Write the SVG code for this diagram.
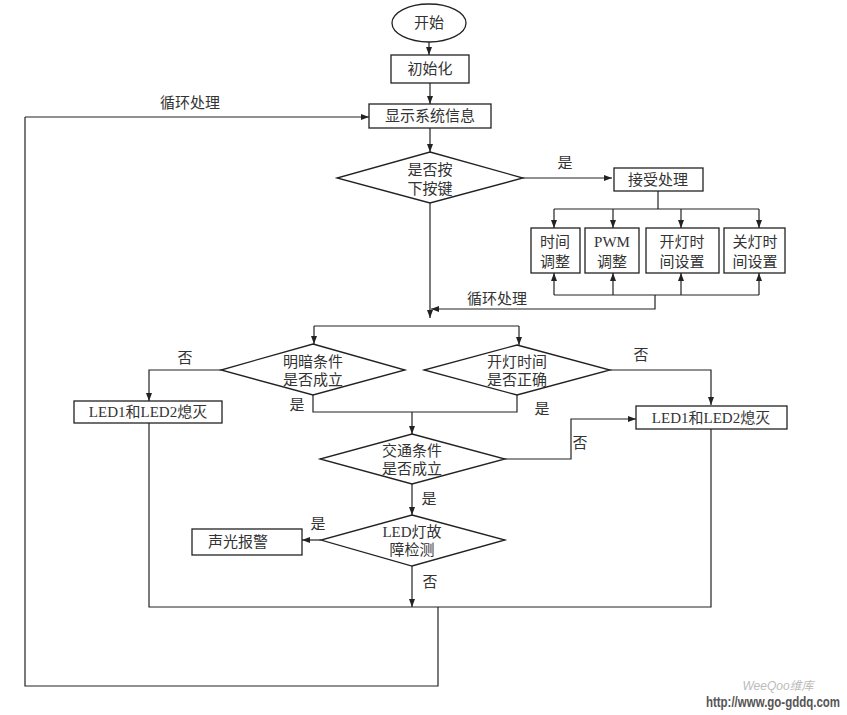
<svg xmlns="http://www.w3.org/2000/svg" width="847" height="715" viewBox="0 0 847 715">
<defs>
<marker id="ar" markerWidth="8" markerHeight="6" refX="8" refY="3" orient="auto" markerUnits="userSpaceOnUse">
<path d="M0,0 L8,3 L0,6 Z" fill="#222"/>
</marker>
<style>
.n{fill:#fff;stroke:#222;stroke-width:1.3}
.t{font-family:"Liberation Serif","Noto Sans CJK SC",serif;font-size:15px;fill:#333;text-anchor:middle;dominant-baseline:central}
.c{fill:none;stroke:#222;stroke-width:1.2}
.a{marker-end:url(#ar)}
</style>
</defs>
<rect width="847" height="715" fill="#fff"/>
<g id="connectors">
<path class="c a" d="M429,42 V55"/>
<path class="c a" d="M430,83 V104"/>
<path class="c a" d="M25,117 H369"/>
<path class="c a" d="M430,128 V152"/>
<path class="c a" d="M523,178 H612"/>
<path class="c" d="M658,191 V209 M554,209 H759"/>
<path class="c a" d="M554,209 V228"/>
<path class="c a" d="M613,209 V228"/>
<path class="c a" d="M681,209 V228"/>
<path class="c a" d="M759,209 V228"/>
<path class="c" d="M554,295 H759"/>
<path class="c a" d="M554,295 V273"/>
<path class="c a" d="M613,295 V273"/>
<path class="c a" d="M681,295 V273"/>
<path class="c a" d="M759,295 V273"/>
<path class="c a" d="M655,295 V309 H431"/>
<path class="c a" d="M430,203 V318"/>
<path class="c" d="M314,326 H519"/>
<path class="c a" d="M314,326 V344"/>
<path class="c a" d="M519,326 V345"/>
<path class="c a" d="M221,370 H149 V401"/>
<path class="c a" d="M610,370 H711 V405"/>
<path class="c" d="M313,395 V412 H517 V395"/>
<path class="c a" d="M412,412 V434"/>
<path class="c a" d="M505,459 H571 V419 H636"/>
<path class="c a" d="M412,484 V515"/>
<path class="c a" d="M321,540 H302"/>
<path class="c a" d="M412,566 V607"/>
<path class="c" d="M149,423 V607 H711 V429"/>
<path class="c" d="M438,607 V686 H25 V117"/>
</g>
<g id="start"><ellipse class="n" cx="429" cy="23" rx="37" ry="19"/><text class="t" x="429" y="23">开始</text></g>
<g id="init"><rect class="n" x="391" y="55" width="78" height="28"/><text class="t" x="430" y="69">初始化</text></g>
<g id="display"><rect class="n" x="369" y="104" width="122" height="24"/><text class="t" x="430" y="116">显示系统信息</text></g>
<g id="keypress"><path class="n" d="M430,152 L523,178 L430,203 L337,178 Z"/><text class="t" x="430" y="170">是否按</text><text class="t" x="430" y="189">下按键</text></g>
<g id="accept"><rect class="n" x="614" y="168" width="89" height="23"/><text class="t" x="658" y="180">接受处理</text></g>
<g id="timeadj"><rect class="n" x="531" y="228" width="49" height="45"/><text class="t" x="555" y="242">时间</text><text class="t" x="555" y="262">调整</text></g>
<g id="pwmadj"><rect class="n" x="585" y="228" width="54" height="45"/><text class="t" x="612" y="242">PWM</text><text class="t" x="612" y="262">调整</text></g>
<g id="onset"><rect class="n" x="646" y="228" width="73" height="45"/><text class="t" x="682" y="242">开灯时</text><text class="t" x="682" y="262">间设置</text></g>
<g id="offset"><rect class="n" x="724" y="228" width="61" height="45"/><text class="t" x="755" y="242">关灯时</text><text class="t" x="755" y="262">间设置</text></g>
<g id="brightcond"><path class="n" d="M313,344 L405,370 L313,395 L221,370 Z"/><text class="t" x="313" y="362">明暗条件</text><text class="t" x="313" y="380">是否成立</text></g>
<g id="ontimecond"><path class="n" d="M517,345 L610,370 L517,395 L424,370 Z"/><text class="t" x="517" y="362">开灯时间</text><text class="t" x="517" y="380">是否正确</text></g>
<g id="ledoff1"><rect class="n" x="74" y="401" width="148" height="22"/><text class="t" x="148" y="412">LED1和LED2熄灭</text></g>
<g id="ledoff2"><rect class="n" x="636" y="406" width="151" height="23"/><text class="t" x="711" y="418">LED1和LED2熄灭</text></g>
<g id="traffic"><path class="n" d="M412,434 L505,459 L412,484 L320,459 Z"/><text class="t" x="412" y="451">交通条件</text><text class="t" x="412" y="469">是否成立</text></g>
<g id="faultcheck"><path class="n" d="M412,515 L505,540 L412,566 L321,540 Z"/><text class="t" x="412" y="532">LED灯故</text><text class="t" x="412" y="550">障检测</text></g>
<g id="alarm"><rect class="n" x="192" y="529" width="110" height="26"/><text class="t" x="238" y="542">声光报警</text></g>
<g id="labels">
<text class="t" x="190" y="103">循环处理</text>
<text class="t" x="497" y="299">循环处理</text>
<text class="t" x="565" y="163">是</text>
<text class="t" x="185" y="358">否</text>
<text class="t" x="641" y="355">否</text>
<text class="t" x="297" y="405">是</text>
<text class="t" x="542" y="409">是</text>
<text class="t" x="580" y="443">否</text>
<text class="t" x="429" y="499">是</text>
<text class="t" x="318" y="524">是</text>
<text class="t" x="430" y="582">否</text>
</g>
<g id="watermark">
<text x="778" y="690" font-family="'Liberation Sans','Noto Sans CJK SC',sans-serif" font-size="12" fill="#bbb" text-anchor="middle" font-style="italic">WeeQoo维库</text>
<text x="840" y="707" font-family="'Liberation Sans',sans-serif" font-size="14" font-weight="bold" fill="#555" text-anchor="end" transform="translate(840,0) scale(0.82,1) translate(-840,0)">http://www.go-gddq.com</text>
</g>
</svg>
